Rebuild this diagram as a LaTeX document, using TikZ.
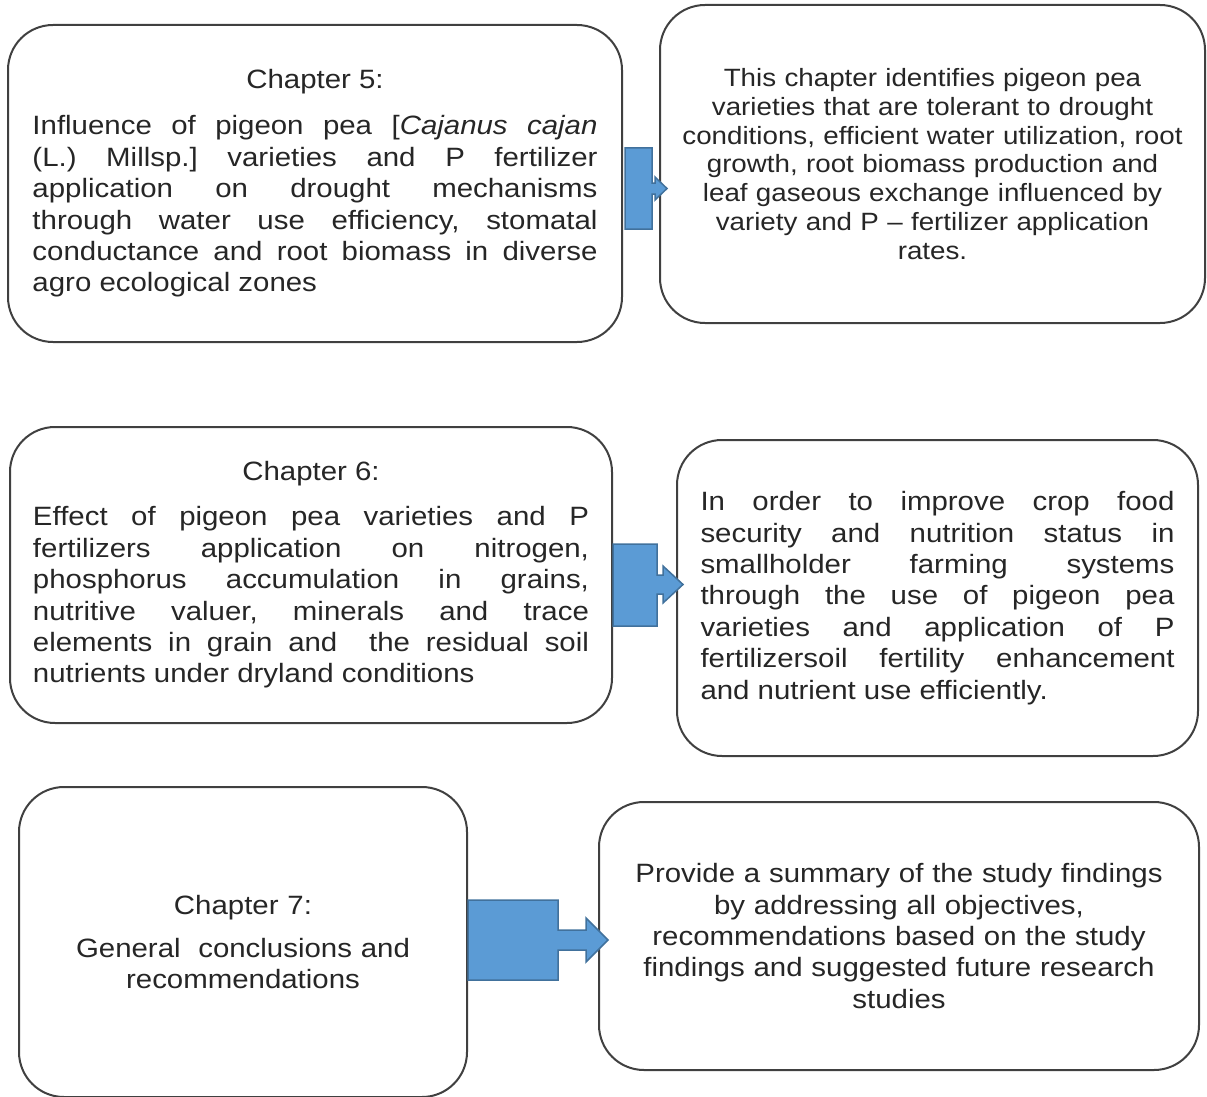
\documentclass[tikz,border=0pt]{standalone}
\usepackage{fontspec}
\setmainfont{Liberation Sans}[FakeStretch=1.11]
\usepackage{xcolor}
\definecolor{boxline}{RGB}{64,64,64}
\definecolor{arrowfill}{RGB}{91,155,213}
\definecolor{arrowline}{RGB}{65,113,156}
\definecolor{textgray}{RGB}{38,38,38}
\frenchspacing

\tikzset{
    chapterbox/.style={draw=boxline, line width=2pt, rounded corners=45pt, fill=white, inner sep=0pt, text=textgray, font=\fontsize{26.5pt}{31.4pt}\selectfont},
    smalltext/.style={font=\fontsize{25pt}{28.7pt}\selectfont},
    callout/.style={draw=arrowline, line width=1.5pt, fill=arrowfill, line join=miter},
}

\begin{document}
\begin{tikzpicture}[x=1pt, y=-1pt]
            \useasboundingbox (0,0) rectangle (1207,1097);
            \clip (0,0) rectangle (1207,1097);

            % chapter 5
            \node[chapterbox, minimum width=614pt, minimum height=317pt, text width=565pt, align=justify] (ch5) at (315,183.5) {{\centering Chapter 5:\par}\vspace{14.6pt}Influence of pigeon pea [\textit{Cajanus cajan}\linebreak (L.) Millsp.] varieties and P fertilizer\linebreak application on drought mechanisms\linebreak through water use efficiency, stomatal\linebreak conductance and root biomass in diverse\linebreak agro ecological zones};
            \node[chapterbox, smalltext, minimum width=545pt, minimum height=318pt, text width=510pt, align=center] (aim5) at (932.5,164) {This chapter identifies pigeon pea\\ varieties that are tolerant to drought\\ conditions, efficient water utilization, root\\ growth, root biomass production and\\ leaf gaseous exchange influenced by\\ variety and P -- fertilizer application\\ rates.};

            % chapter 6
            \node[chapterbox, minimum width=602pt, minimum height=296pt, text width=556pt, align=justify] (ch6) at (311,575) {{\centering Chapter 6:\par}\vspace{13.6pt}Effect of pigeon pea varieties and P\linebreak fertilizers application on nitrogen,\linebreak phosphorus accumulation in grains,\linebreak nutritive valuer, minerals and trace\linebreak elements in grain and\ \ the residual soil\linebreak nutrients under dryland conditions};
            \node[chapterbox, minimum width=521pt, minimum height=316pt, text width=474pt, align=justify] (aim6) at (937.5,598) {In order to improve crop food\linebreak security and nutrition status in\linebreak smallholder farming systems\linebreak through the use of pigeon pea\linebreak varieties and application of P\linebreak fertilizersoil fertility enhancement\linebreak and nutrient use efficiently.};

            % chapter 7
            \node[chapterbox, minimum width=448pt, minimum height=310pt, text width=400pt, align=center] (ch7) at (243,942) {Chapter 7:\\[11.6pt] General\ \ conclusions and\\ recommendations};
            \node[chapterbox, minimum width=600pt, minimum height=268pt, text width=560pt, align=center] (aim7) at (899,936) {Provide a summary of the study findings\\ by addressing all objectives,\\ recommendations based on the study\\ findings and suggested future research\\ studies};

            % block arrows
            \draw[callout] ([xshift=2pt]ch5.east |- 0,148) -- ++(27,0) -- ++(0,35) -- ++(3,0) -- ++(0,-6) -- ++(12,11.5) -- ++(-12,11.5) -- ++(0,-6) -- ++(-3,0) -- ++(0,35) -- ++(-27,0) -- cycle;
            \draw[callout] (ch6.east |- 0,544) -- ++(44,0) -- ++(0,31) -- ++(6,0) -- ++(0,-9) -- ++(20,18.5) -- ++(-20,18.5) -- ++(0,-9) -- ++(-6,0) -- ++(0,32) -- ++(-44,0) -- cycle;
            \draw[callout] (ch7.east |- 0,900) -- ++(90,0) -- ++(0,30) -- ++(28,0) -- ++(0,-12) -- ++(22,22) -- ++(-22,22) -- ++(0,-12) -- ++(-28,0) -- ++(0,30) -- ++(-90,0) -- cycle;
\end{tikzpicture}
\end{document}
